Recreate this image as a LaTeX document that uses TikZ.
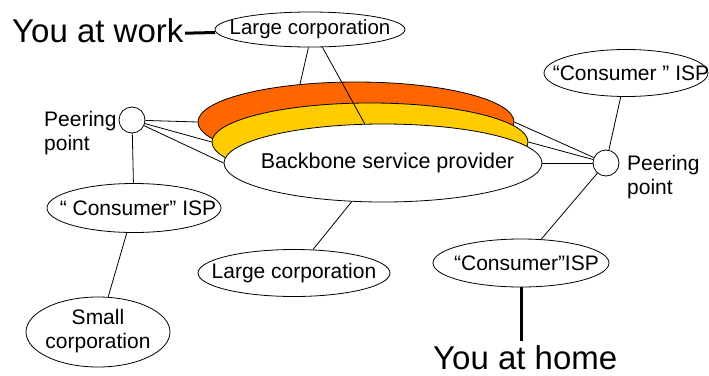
\documentclass[tikz,border=0pt]{standalone}
\usepackage{fontspec}
\setmainfont{Liberation Sans}
\usetikzlibrary{shapes.geometric}
\definecolor{bandorange}{HTML}{FF6600}
\definecolor{bandyellow}{HTML}{FFCC00}
\newcommand{\lblfont}{\fontsize{21}{24}\selectfont}
\newcommand{\bigfont}{\fontsize{33}{38}\selectfont}
\newcommand{\ctext}[2][0pt]{\makebox[0pt]{\hspace*{#1}#2}}
\begin{document}
\begin{tikzpicture}[x=1pt,y=-1pt,
  ell/.style={ellipse,draw,line width=0.8pt,fill=white,inner sep=0pt,font=\lblfont},
  peer/.style={circle,draw,line width=0.8pt,fill=white,minimum size=26pt,inner sep=0pt},
  plain/.style={inner sep=0pt,font=\lblfont,align=left},
  link/.style={line width=0.8pt},
  heavy/.style={line width=3pt}]
\useasboundingbox (0,0) rectangle (709,375);
% backbone layers
\node[ell,fill=bandorange,minimum width=316pt,minimum height=80pt] (orange) at (356,122) {};
\node[ell,fill=bandyellow,minimum width=316pt,minimum height=78pt] (yellow) at (370,142) {};
\node[ell,minimum width=318pt,minimum height=78pt] (backbone) at (383,163) {\ctext[9pt]{\fontsize{21.5}{24}\selectfont Backbone service provider}};
% other ellipses
\node[ell,minimum width=190pt,minimum height=35pt] (lc1) at (310,29.5) {\ctext{\fontsize{20.5}{24}\selectfont Large corporation}};
\node[ell,minimum width=192pt,minimum height=47pt] (lc2) at (294,273) {\ctext{Large corporation}};
\node[ell,minimum width=174pt,minimum height=49pt] (isp1) at (134,208) {\ctext[8pt]{“ Consumer” ISP}};
\node[ell,minimum width=144pt,minimum height=70pt] (small) at (98,332) {\ctext{\begin{tabular}{@{}c@{}}Small\\corporation\end{tabular}}};
\node[ell,minimum width=164pt,minimum height=47pt] (isp2) at (626,73) {\ctext[10pt]{“Consumer ” ISP}};
\node[ell,minimum width=176pt,minimum height=48pt] (isp3) at (521,263) {\ctext[11pt]{“Consumer”ISP}};
% peering points
\node[peer] (lp) at (132,120) {};
\node[peer] (rp) at (606,163) {};
\node[plain,anchor=north west] (lpl) at (44,111.5) {Peering\\point};
\node[plain,anchor=north west] (rpl) at (627,155.5) {Peering\\point};
% big labels
\node[anchor=base west,inner sep=0pt,font=\bigfont] (work) at (12,42) {You at work};
\node[anchor=base west,inner sep=0pt,font=\bigfont] (home) at (433,369.5) {You at home};
% connectors
\draw[link] (lc1.265) -- (orange.146);
\draw[link] (lc1.305) -- (backbone.115);
\draw[link] (lp) -- (orange.west);
\draw[link] (lp) -- (yellow.west);
\draw[link] (lp) -- (backbone.west);
\draw[link] (lp) -- (isp1);
\draw[link] (isp1) -- (small);
\draw[link] (lc2) -- (backbone);
\draw[link] (rp) -- (orange.east);
\draw[link] (rp) -- (yellow.east);
\draw[link] (rp) -- (backbone.east);
\draw[link] (rp) -- (isp2);
\draw[link] (rp) -- (isp3);
\draw[heavy] ([xshift=1.5pt,yshift=-3pt]work.east) -- ([xshift=0.5pt,yshift=-3pt]lc1.west);
\draw[heavy,shorten >=4.5pt] (isp3.south) -- (isp3.south |- home.north);
\end{tikzpicture}
\end{document}
